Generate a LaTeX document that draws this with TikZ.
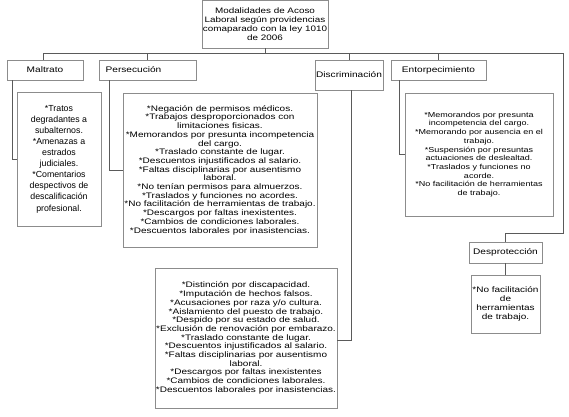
\documentclass[tikz,border=0pt]{standalone}
\usepackage{fontspec}
\setmainfont{Liberation Sans}[FakeStretch=1.25]
\newfontfamily\plainfont{Liberation Sans}
\definecolor{boxgray}{RGB}{140,140,140}
\definecolor{linegray}{RGB}{90,90,90}
\begin{document}
\begin{tikzpicture}[x=1pt,y=-1pt,
  box/.style={draw=boxgray, line width=0.6pt, inner sep=0pt, align=center, fill=white},
  conn/.style={draw=linegray, line width=0.7pt},
  lbl/.style={box, minimum height=20pt, font=\fontsize{8.1}{9.6}\selectfont},
  lst/.style={box, font=\fontsize{8}{8.7}\selectfont}]
\useasboundingbox[fill=white] (0,0) rectangle (569,416);

% top
\node[box, minimum width=126pt, minimum height=48pt, font=\fontsize{7.9}{9}\selectfont] (top) at (265,24)
  {Modalidades de Acoso\\Laboral según providencias\\comaparado con la ley 1010\\de 2006};

% category labels
\node[lbl, minimum width=76pt] (malt) at (45,70) {Maltrato};
\node[lbl, minimum width=97pt] (pers) at (147.5,70) {Persecución\hspace{28pt}};
\node[lbl, minimum width=68pt, minimum height=30pt] (disc) at (349,75) {Discriminación};
\node[lbl, minimum width=95pt] (ent) at (438.5,70) {Entorpecimiento};
\node[lbl, minimum width=73pt, minimum height=21pt] (desp) at (505.5,252.5) {Desprotección};

% content boxes
\node[box, minimum width=84pt, minimum height=134pt, font=\plainfont\fontsize{8.8}{11.1}\selectfont] (maltc) at (59,159)
  {*Tratos\\degradantes a\\subalternos.\\*Amenazas a\\estrados\\judiciales.\\*Comentarios\\despectivos de\\descalificación\\profesional.};

\node[lst, minimum width=194pt, minimum height=154pt] (persc) at (220,170)
  {*Negación de permisos médicos.\\
   *Trabajos desproporcionados con\\
   limitaciones fisicas.\\
   *Memorandos por presunta incompetencia\\
   del cargo.\\
   *Traslado constante de lugar.\\
   *Descuentos injustificados al salario.\\
   *Faltas disciplinarias por ausentismo\\
   laboral.\\
   *No tenían permisos para almuerzos.\\
   *Traslados y funciones no acordes.\\
   *No facilitación de herramientas de trabajo.\\
   *Descargos por faltas inexistentes.\\
   *Cambios de condiciones laborales.\\
   *Descuentos laborales por inasistencias.};

\node[lst, minimum width=182pt, minimum height=140pt] (discc) at (246,338)
  {*Distinción por discapacidad.\\
   *Imputación de hechos falsos.\\
   *Acusaciones por raza y/o cultura.\\
   *Aislamiento del puesto de trabajo.\\
   *Despido por su estado de salud.\\
   *Exclusión de renovación por embarazo.\\
   *Traslado constante de lugar.\\
   *Descuentos injustificados al salario.\\
   *Faltas disciplinarias por ausentismo\\
   laboral.\\
   *Descargos por faltas inexistentes\\
   *Cambios de condiciones laborales.\\
   *Descuentos laborales por inasistencias.};

\node[lst, minimum width=148pt, minimum height=123pt, font=\fontsize{7.2}{8.7}\selectfont] (entc) at (479,154.5)
  {*Memorandos por presunta\\
   incompetencia del cargo.\\
   *Memorando por ausencia en el\\
   trabajo.\\
   *Suspensión por presuntas\\
   actuaciones de deslealtad.\\
   *Traslados y funciones no\\
   acorde.\\
   *No facilitación de herramientas\\
   de trabajo.};

\node[lst, minimum width=69pt, minimum height=58pt, font=\fontsize{8}{9}\selectfont] (despc) at (505.5,304)
  {*No facilitación\\de\\herramientas\\de trabajo.};

% bus
\coordinate (bus) at (265,53);
\coordinate (busR) at (563,53);
\coordinate (turn) at (563,233);
\draw[conn] (top.south) -- (bus);
\draw[conn] ([xshift=-2pt]malt.north) |- (busR) -- (turn) -| (desp.north);
\draw[conn] (pers.north) -- (pers.north |- bus);
\draw[conn] (disc.north) -- (disc.north |- bus);
\draw[conn] (ent.north) -- (ent.north |- bus);

% side connectors
\draw[conn] ([xshift=-33pt]malt.south) |- (maltc.west);
\draw[conn] ([xshift=-38.5pt]pers.south) |- (persc.west);
\draw[conn] ([xshift=2pt]disc.south) |- ([yshift=-2pt]discc.east);
\draw[conn] ([xshift=-39.5pt]ent.south) |- (entc.west);
\draw[conn] (desp.south) -- (despc.north);
\end{tikzpicture}
\end{document}
